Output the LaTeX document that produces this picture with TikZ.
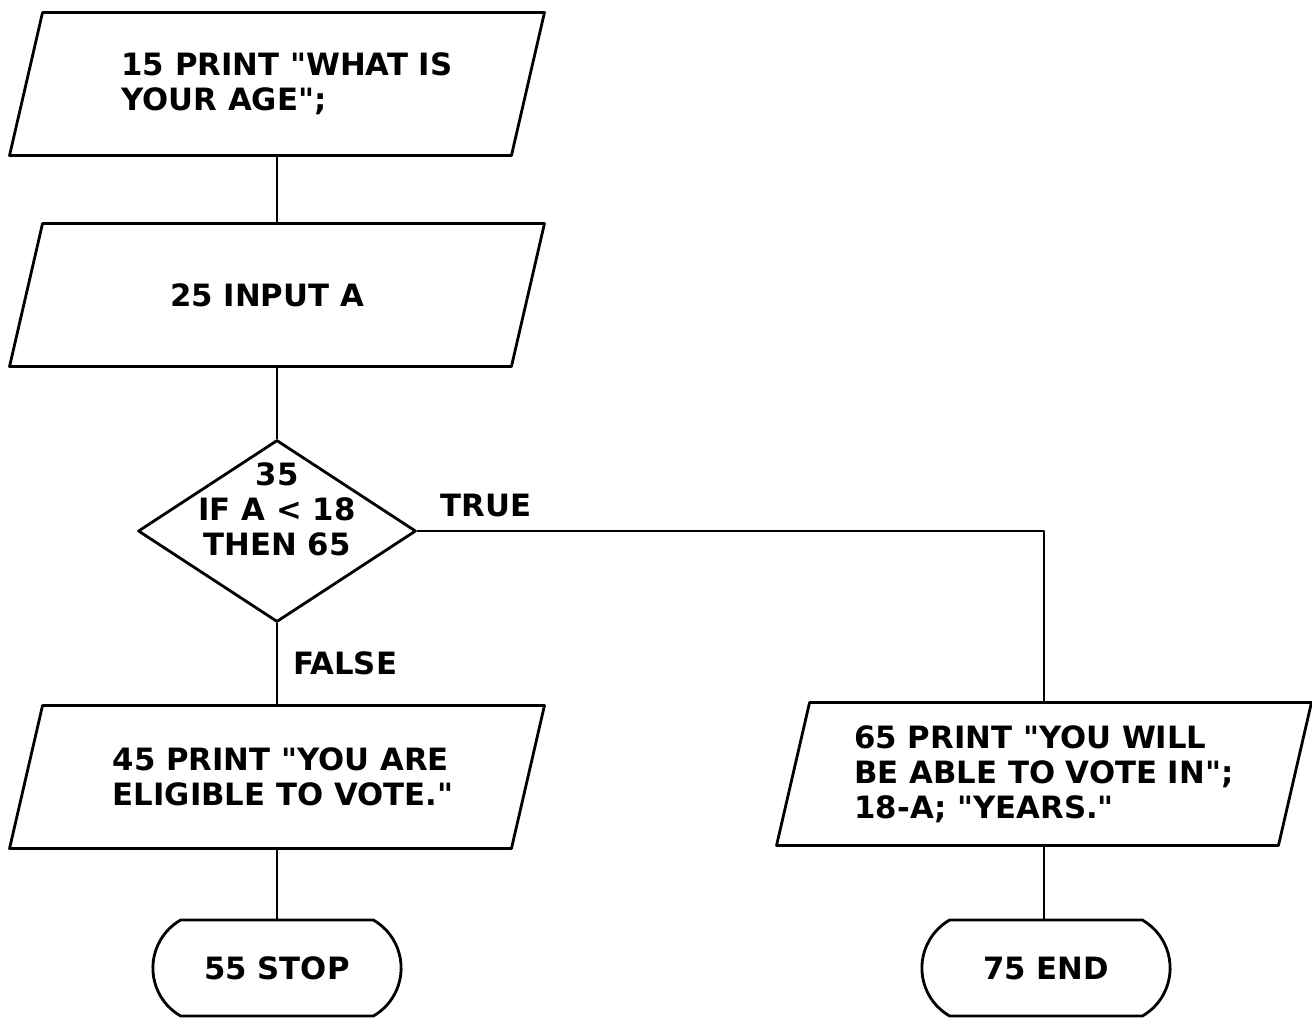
\documentclass[tikz,border=0pt]{standalone}
\usepackage{fontspec}
\setmainfont{DejaVu Sans}[Ligatures=TeXOff]
\usetikzlibrary{%
  shapes.geometric,
  shapes.misc
}
\tikzset{
  every node/.style={font=\fontsize{17.5}{20}\selectfont\bfseries},
  every label/.style={align=left},
  inout/.style={draw, trapezium, trapezium left angle=77,
    trapezium right angle=103, inner xsep=4.69cm, inner ysep=1.43cm},
  decide/.style={draw, diamond, minimum width=5.56cm,
    minimum height=3.64cm, inner sep=0pt},
  endbox/.style={draw, rounded rectangle, rounded rectangle arc length=120,
    minimum width=5.2cm, minimum height=1.92cm}
}

\begin{document}
\begin{tikzpicture}[x=0.02cm, y=-0.02cm, line width=1.6pt, line join=round]
  \useasboundingbox (0,0) rectangle (1312,1019);

  \node[inout, label={[xshift=0.2cm]center:15 PRINT "WHAT IS\\YOUR AGE";}]
    (print1) at (277,84) {};
  \node[inout, label={[xshift=-0.2cm]center:25 INPUT A}]
    (input) at (277,295) {};
  \node[decide,
    label={[align=center, yshift=0.44cm]center:35\\IF A < 18\\THEN 65}]
    (test) at (277,531) {};
  \node[inout, label={[xshift=0.12cm]center:45 PRINT "YOU ARE\\ELIGIBLE TO VOTE."}]
    (print2) at (277,777) {};
  \node[endbox] (stop) at (277,968) {55 STOP};

  \node[inout, label={center:65 PRINT "YOU WILL\\BE ABLE TO VOTE IN";\\18-A; "YEARS."}]
    (print3) at (1044,774) {};
  \node[endbox] (finish) at (1046,968) {75 END};

  \draw (print1.south) -- (input.north);
  \draw (input.south) -- (test.north);
  \draw (test.south) -- node[right=5pt] {FALSE} (print2.north);
  \draw (test.east) -| node[pos=0.055, above=4pt] {TRUE} (print3.north);
  \draw (print2.south) -- (stop.north);
  \draw (print3.south) -- (print3.south |- finish.north);

\end{tikzpicture}
\end{document}
